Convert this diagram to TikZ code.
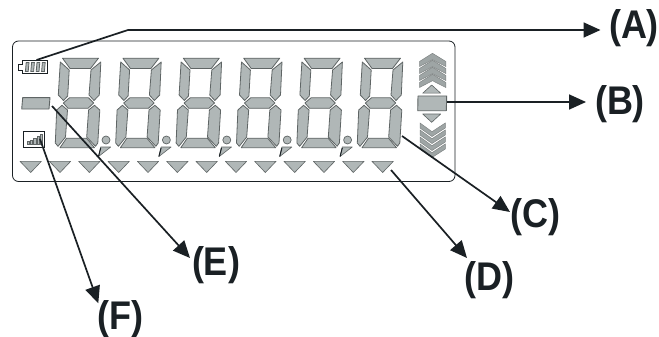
\documentclass[tikz,border=0pt]{standalone}
\usepackage{fontspec}
\setmainfont{Liberation Sans}
\usetikzlibrary{arrows.meta}
\definecolor{seg}{HTML}{B0B7B7}
\definecolor{segline}{HTML}{5F6565}
\definecolor{ink}{HTML}{1A2024}
\newcommand{\lbltext}[1]{\scalebox{.9}[1]{#1}}
\tikzset{
  seg/.style={fill=seg,draw=segline,line width=0.8pt,line join=round},
  tri/.style={fill=seg,draw=segline,line width=0.6pt,line join=round},
  chev/.style={fill=seg!90!black,draw=segline!80,line width=0.5pt,line join=miter},
  lead/.style={draw=ink,line width=1.7pt,-{Triangle[length=17pt,width=15pt]}},
  lab/.style={font=\bfseries\fontsize{40}{40}\selectfont,text=ink,inner sep=0pt,anchor=base}
}
\begin{document}
\begin{tikzpicture}[x=1pt,y=-1pt]
\useasboundingbox (0,0) rectangle (659,337);
\fill[white] (0,0) rectangle (659,337);
% panel
\draw[draw=ink,line width=0.8pt,rounded corners=6pt] (12.5,41) rectangle (455,181.5);
% digits
\foreach \i in {0,...,5}{
\begin{scope}[shift={({60.4*\i},0)}]
 \draw[seg] (62.5,58.2) -- (98.5,58.2) -- (90.5,68.5) -- (70,68.5) -- cycle;
 \draw[seg] (60.3,62) -- (69.2,70) -- (67.7,96) -- (63.5,100.5) -- (58.3,95) -- cycle;
 \draw[seg] (100.8,62) -- (99.3,95) -- (94,100.5) -- (89,95) -- (91,70) -- cycle;
 \draw[seg] (63.3,103) -- (69.5,97.8) -- (88.5,97.8) -- (93.7,103) -- (88,108.3) -- (68,108.3) -- cycle;
 \draw[seg] (62,105.3) -- (67.5,110) -- (65.5,137) -- (58,146.3) -- (55.3,143) -- (56.7,110) -- cycle;
 \draw[seg] (94.5,105.3) -- (99.8,110) -- (97.8,143) -- (95.5,146.3) -- (86.7,137) -- (88.6,110) -- cycle;
 \draw[seg] (60,147.7) -- (66.5,138.2) -- (86.5,138.2) -- (94.5,147.7) -- cycle;
\end{scope}}
% decimal points
\foreach \i in {0,...,4}{
\begin{scope}[shift={({60.4*\i},0)}]
 \draw[seg,line width=0.7pt] (106,140) circle (4);
 \draw[seg,line width=0.6pt] (100.7,147) -- (110.7,147) -- (98.5,156.5) -- cycle;
 \draw[ink,line width=1pt] (100.7,148) -- (98.5,156.5);
\end{scope}}
% triangles
\foreach \i in {0,...,12}{
 \draw[tri] ({30.7+29.33*\i-10.7},161.3) -- ({30.7+29.33*\i+10.7},161.3) -- ({30.7+29.33*\i},172.5) -- cycle;
}
% battery
\coordinate (batt) at (36.5,60);
\draw[draw=ink,line width=0.9pt,fill=white] (22,60) -- (47.3,60) -- (47.3,73.5) -- (22,73.5) -- (22,70) -- (18,70) -- (18,64) -- (22,64) -- cycle;
\foreach \x in {26.2,31.6,37,42.4}{
 \draw[fill=seg,draw=segline,line width=0.8pt] (\x,62.5) -- (\x+2.8,62.5) -- (\x+2,71.5) -- (\x-0.8,71.5) -- cycle;
}
% minus
\draw[seg,line width=0.9pt] (22.7,97.7) -- (50,97.7) -- (49,109) -- (21.7,109) -- cycle;
% signal
\draw[draw=ink,line width=0.9pt] (23.5,131.7) rectangle (44.3,147.3);
\foreach \x/\t in {27/141.7,30.4/140.2,33.8/138.6,37.2/136.8,40.2/134.5}{
 \draw[fill=seg,draw=segline,line width=0.7pt] (\x,\t) rectangle (\x+2.2,144.5);
}
% upper chevrons
\foreach \d in {21,14,7,0}{
 \draw[chev] (432.5,53.3+\d) -- (445.8,61.5+\d) -- (445.8,66.5+\d) -- (432.5,59.7+\d) -- (419.5,66.5+\d) -- (419.5,61.5+\d) -- cycle;
}
\draw[tri] (431.7,85) -- (440.7,93.2) -- (422.7,93.2) -- cycle;
% centre block
\draw[seg,line width=0.9pt] (418,96) -- (446.7,96) -- (446.3,110.7) -- (417.7,110.7) -- cycle;
% lower triangle and chevrons
\draw[tri] (422.7,114) -- (440.7,114) -- (431.7,122.3) -- cycle;
\foreach \d in {0,7,14,21}{
 \draw[chev] (432,131.7+\d) -- (445.3,123+\d) -- (445.3,128+\d) -- (432,136.5+\d) -- (420,128+\d) -- (420,123+\d) -- cycle;
}
% labels
\node[lab] (A) at (634,39) {\lbltext{(A)}};
\node[lab] (B) at (620,114) {\lbltext{(B)}};
\node[lab] (C) at (535.5,227) {\lbltext{(C)}};
\node[lab] (D) at (489.5,290) {\lbltext{(D)}};
\node[lab] (E) at (216,275) {\lbltext{(E)}};
\node[lab] (F) at (120.5,329) {\lbltext{(F)}};
% anchors
\coordinate (aj) at (128,30);
\coordinate (at) at (600.5,30);
\coordinate (bs) at (447,102);
\coordinate (bt) at (586,102);
\coordinate (cs) at (402,136);
\coordinate (ct) at (510,212);
\coordinate (ds) at (391,170);
\coordinate (dt) at (467,258);
\coordinate (es) at (52,106);
\coordinate (et) at (190,258);
\coordinate (fs) at (40,139);
\coordinate (ft) at (98.3,303.3);
% leaders
\draw[lead] (batt) -- (aj) -- (at);
\draw[lead] (bs) -- (bt);
\draw[lead] (cs) -- (ct);
\draw[lead] (ds) -- (dt);
\draw[lead] (es) -- (et);
\draw[lead] (fs) -- (ft);
\end{tikzpicture}
\end{document}
